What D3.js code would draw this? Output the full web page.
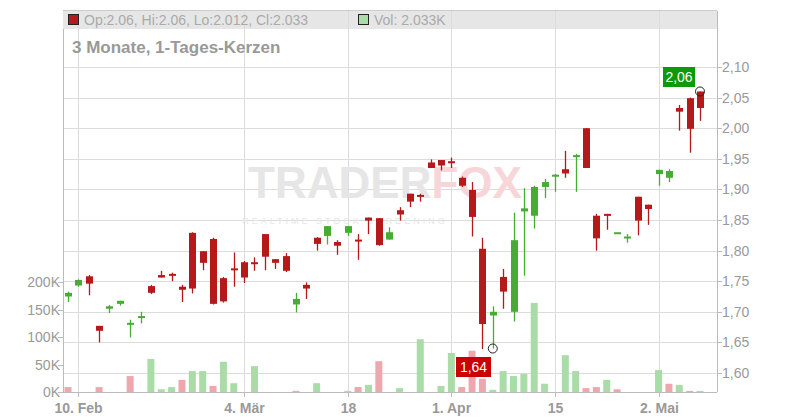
<!DOCTYPE html>
<html><head><meta charset="utf-8">
<script src="https://cdn.jsdelivr.net/npm/d3@7"></script>
<style>body{margin:0;background:#fff}text{font-family:"Liberation Sans",Arial,sans-serif}</style>
</head><body><svg id="c" width="800" height="420"></svg>
<script>
const opens  = [1.725,1.743,1.758,1.677,1.705,1.713,1.679,1.692,1.742,1.760,1.762,1.741,1.829,1.799,1.819,1.755,1.771,1.781,1.781,1.827,1.786,1.791,1.712,1.744,1.821,1.824,1.814,1.829,1.818,1.854,1.853,1.818,1.866,1.893,1.891,1.944,1.948,1.946,1.919,1.899,1.803,1.694,1.757,1.700,1.864,1.857,1.904,1.921,1.933,1.953,2.000,1.857,1.860,1.830,1.820,1.888,1.875,1.925,1.919,2.033,2.049,2.060];
const closes = [1.731,1.752,1.746,1.669,1.709,1.718,1.682,1.693,1.731,1.756,1.759,1.736,1.738,1.780,1.713,1.717,1.769,1.756,1.779,1.790,1.780,1.767,1.721,1.738,1.811,1.840,1.808,1.840,1.816,1.849,1.809,1.830,1.859,1.880,1.888,1.935,1.939,1.945,1.906,1.855,1.680,1.700,1.733,1.817,1.869,1.904,1.912,1.924,1.926,1.956,1.935,1.820,1.857,1.830,1.823,1.849,1.868,1.932,1.930,2.027,1.999,2.033];
const highs  = [1.733,1.753,1.760,1.677,1.711,1.718,1.687,1.700,1.744,1.767,1.764,1.744,1.830,1.799,1.821,1.757,1.797,1.783,1.789,1.827,1.786,1.796,1.731,1.748,1.822,1.840,1.817,1.840,1.827,1.854,1.853,1.838,1.871,1.893,1.893,1.949,1.948,1.952,1.921,1.912,1.821,1.709,1.770,1.862,1.902,1.906,1.917,1.925,1.963,1.958,2.000,1.860,1.860,1.830,1.827,1.888,1.875,1.932,1.933,2.038,2.050,2.060];
const lows   = [1.716,1.741,1.727,1.650,1.698,1.710,1.658,1.681,1.729,1.756,1.750,1.716,1.730,1.768,1.712,1.715,1.741,1.747,1.767,1.768,1.770,1.765,1.699,1.721,1.800,1.810,1.793,1.824,1.785,1.827,1.808,1.818,1.849,1.871,1.880,1.935,1.931,1.935,1.904,1.823,1.639,1.640,1.705,1.684,1.759,1.836,1.886,1.896,1.919,1.896,1.935,1.800,1.834,1.830,1.813,1.825,1.842,1.906,1.912,1.996,1.960,2.012];
const volumes= [9,0,0,9,0,0,29,0,60,5,9,22,38,38,11,55,16,0,47,0,0,0,2,0,16,0,0,2,9,13,56,0,7,0,96,0,11,71,9,75,24,4,38,29,33,162,15,0,67,38,7,9,22,5,0,0,0,40,15,13,2,2];
const volUp  = [0,1,1,0,1,1,0,1,1,1,1,0,1,1,0,1,1,1,1,1,1,1,0,1,1,1,1,1,0,1,0,1,1,1,1,1,1,1,0,0,0,1,1,1,1,1,1,1,1,1,0,0,1,0,1,1,1,1,0,1,0,1];
const dateLabels = [[1,"10. Feb"],[17,"4. Mär"],[27,"18"],[37,"1. Apr"],[47,"15"],[57,"2. Mai"]];
const priceTicks = [1.60,1.65,1.70,1.75,1.80,1.85,1.90,1.95,2.00,2.05,2.10];
const volTicks = [0,50,100,150,200];

const svg = d3.select("#c");
const L=63,R=717,T=29,B=392;
const x = d3.scaleLinear().domain([0,61]).range([68,700]);
const y = d3.scaleLinear().domain([1.60,2.10]).range([373,67]);
const yv = d3.scaleLinear().domain([0,200]).range([B,282]);
const RED="#b5191a",GRN="#46ac34";

svg.append("rect").attr("x",L).attr("y",11).attr("width",R-L).attr("height",18).attr("fill","#e6e6e6");
svg.append("line").attr("x1",L).attr("x2",R).attr("y1",10.5).attr("y2",10.5).attr("stroke","#ccc");
svg.append("g").selectAll("line").data(priceTicks).join("line")
  .attr("x1",L).attr("x2",R).attr("y1",d=>Math.round(y(d))+0.5).attr("y2",d=>Math.round(y(d))+0.5).attr("stroke","#dcdcdc");
svg.append("g").selectAll("line").data(dateLabels).join("line")
  .attr("x1",d=>Math.round(x(d[0]))+0.5).attr("x2",d=>Math.round(x(d[0]))+0.5).attr("y1",11).attr("y2",B).attr("stroke","#dcdcdc");
// watermark
const wm=svg.append("text").attr("x",385).attr("y",198).attr("text-anchor","middle").attr("font-size",44).attr("font-weight","bold");
wm.append("tspan").attr("fill","#e6e6e6").text("TRADER");
wm.append("tspan").attr("fill","#f7d6d9").text("FOX");
svg.append("text").attr("x",345).attr("y",224).attr("text-anchor","middle").attr("font-size",9).attr("letter-spacing",3)
  .attr("fill","#e6e6e6").text("REALTIME STOCK SCREENING");
svg.append("line").attr("x1",L+0.5).attr("x2",L+0.5).attr("y1",29).attr("y2",B).attr("stroke","#bbb");
svg.append("line").attr("x1",R+0.5).attr("x2",R+0.5).attr("y1",11).attr("y2",B).attr("stroke","#bbb");
svg.append("line").attr("x1",L).attr("x2",R).attr("y1",B+0.5).attr("y2",B+0.5).attr("stroke","#bbb");
const bw=7;
svg.append("g").selectAll("rect").data(volumes.map((v,i)=>[v,i]).filter(d=>d[0]>0)).join("rect")
  .attr("x",d=>x(d[1])-bw/2).attr("y",d=>yv(d[0])).attr("width",bw).attr("height",d=>B-yv(d[0]))
  .attr("fill",d=>volUp[d[1]]?"#aadca8":"#efa7ae");
const cg=svg.append("g");
opens.forEach((o,i)=>{
  const c=closes[i],col=c>=o?GRN:RED,cx=Math.round(x(i))+0.5;
  cg.append("line").attr("x1",cx).attr("x2",cx).attr("y1",y(highs[i])).attr("y2",y(lows[i])).attr("stroke",col).attr("stroke-width",1.3);
  const t=y(Math.max(o,c)),b=y(Math.min(o,c));
  cg.append("rect").attr("x",cx-3.5).attr("y",t).attr("width",7).attr("height",Math.max(b-t,2)).attr("fill",col);
});
const ra=svg.append("g");
priceTicks.forEach(p=>{
  ra.append("line").attr("x1",R).attr("x2",R+5).attr("y1",Math.round(y(p))+0.5).attr("y2",Math.round(y(p))+0.5).attr("stroke","#bbb");
  ra.append("text").attr("x",722).attr("y",y(p)+5).attr("font-size",14).attr("fill","#999").text(p.toFixed(2).replace(".",","));
});
volTicks.forEach(v=>{
  svg.append("line").attr("x1",L-5).attr("x2",L).attr("y1",Math.round(yv(v))+0.5).attr("y2",Math.round(yv(v))+0.5).attr("stroke","#bbb");
  svg.append("text").attr("x",L-3).attr("y",yv(v)+5).attr("text-anchor","end").attr("font-size",14).attr("fill","#999").text(v+"K");
});
dateLabels.forEach(d=>{
  const px=Math.round(x(d[0]))+0.5;
  svg.append("line").attr("x1",px).attr("x2",px).attr("y1",B).attr("y2",B+5).attr("stroke","#bbb");
  svg.append("text").attr("x",px).attr("y",413).attr("text-anchor","middle").attr("font-size",14).attr("font-weight","bold").attr("fill","#999").text(d[1]);
});
svg.append("rect").attr("x",68.5).attr("y",14.5).attr("width",10).attr("height",10).attr("fill","#b5191a").attr("stroke","#222");
svg.append("text").attr("x",84).attr("y",25).attr("font-size",14).attr("fill","#aaa").text("Op:2.06, Hi:2.06, Lo:2.012, Cl:2.033");
svg.append("rect").attr("x",358.5).attr("y",14.5).attr("width",10).attr("height",10).attr("fill","#aadca8").attr("stroke","#222");
svg.append("text").attr("x",374).attr("y",25).attr("font-size",14).attr("fill","#aaa").text("Vol: 2.033K");
svg.append("text").attr("x",72).attr("y",53).attr("font-size",17).attr("font-weight","bold").attr("fill","#999").text("3 Monate, 1-Tages-Kerzen");
function marker(i,val,col,lx,ly,w){
  svg.append("circle").attr("cx",x(i)).attr("cy",y(val)).attr("r",4.5).attr("fill","none").attr("stroke","#222");
  svg.append("rect").attr("x",lx).attr("y",ly).attr("width",w).attr("height",20).attr("fill",col);
  svg.append("text").attr("x",lx+w/2).attr("y",ly+15).attr("text-anchor","middle").attr("font-size",14).attr("fill","#fff").text(val.toFixed(2).replace(".",","));
}
marker(61,highs[61],"#0a9a0a",663,67,32);
marker(41,lows[41],"#cc0000",456,357,35);
</script></body></html>
